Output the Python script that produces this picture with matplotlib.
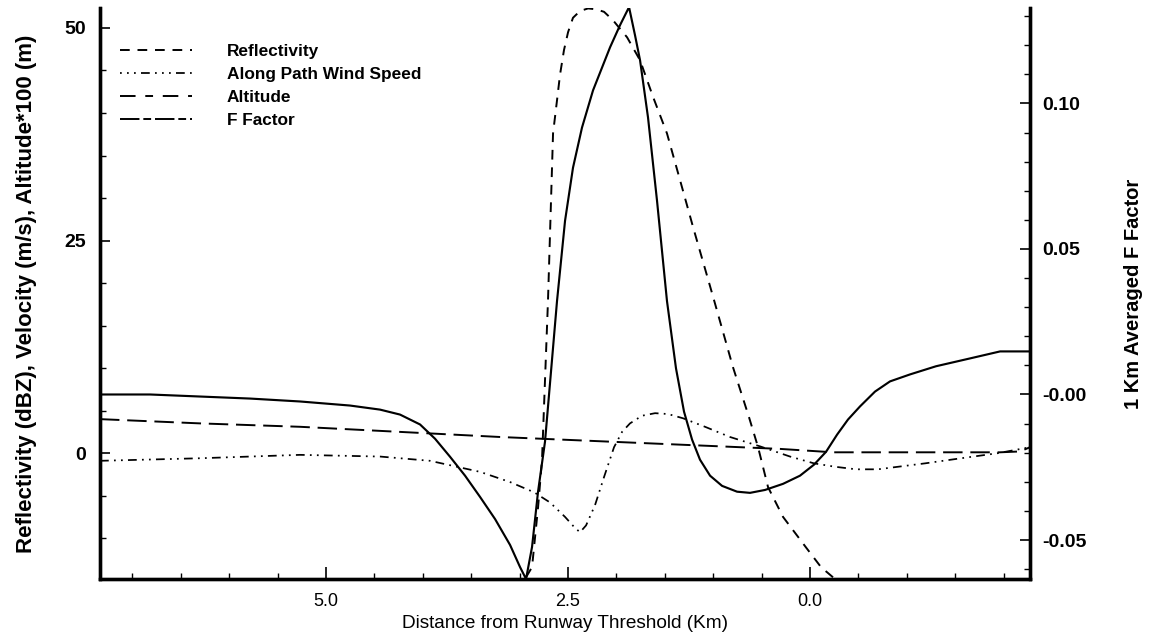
import matplotlib
matplotlib.use("Agg")
import matplotlib.pyplot as plt
from matplotlib.lines import Line2D
from matplotlib.ticker import MultipleLocator, FixedLocator, FixedFormatter

plt.rcParams["font.family"] = ["Liberation Sans", "DejaVu Sans"]

# Distance from runway threshold (km) and measured profiles
refl_km = [2.934, 2.872, 2.810, 2.769, 2.738, 2.707, 2.686, 2.655, 2.614, 2.583,
           2.542, 2.500, 2.449, 2.376, 2.293, 2.211, 2.128, 2.035, 1.890, 1.756,
           1.622, 1.478, 1.343, 1.209, 1.002, 0.796, 0.630, 0.537, 0.434, 0.279,
           0.041, -0.113, -0.237]
refl_dbz = [-14.6, -13.4, -6.4, -0.8, 8.6, 18.0, 25.9, 37.6, 41.5, 44.5,
            47.4, 49.5, 51.2, 52.0, 52.3, 52.2, 51.9, 50.9, 48.9, 46.2,
            41.9, 37.6, 32.1, 26.6, 18.4, 10.1, 4.2, 0.7, -4.0, -7.5,
            -11.1, -13.4, -14.6]

wind_km = [7.335, 6.302, 5.269, 4.442, 3.926, 3.409, 3.099, 2.851, 2.686, 2.531,
           2.428, 2.376, 2.314, 2.221, 2.128, 2.025, 1.942, 1.860, 1.736, 1.601,
           1.467, 1.312, 1.085, 0.827, 0.517, 0.207, -0.041, -0.258, -0.475,
           -0.702, -0.909, -1.188, -1.498, -1.942, -2.272]
wind_ms = [-0.9, -0.6, -0.2, -0.4, -0.9, -2.2, -3.4, -4.6, -5.8, -7.5,
           -8.8, -9.3, -8.5, -6.1, -2.8, 0.7, 2.5, 3.5, 4.4, 4.7,
           4.6, 4.1, 3.1, 1.9, 0.8, -0.4, -1.2, -1.6, -1.9,
           -1.9, -1.6, -1.2, -0.7, 0.0, 0.7]

alt_km = [7.335, 6.302, 5.269, 4.236, 3.203, 2.170, 1.137, 0.310, -0.237, -0.950,
          -1.963, -2.170, -2.272]
alt_scaled = [4.0, 3.5, 3.1, 2.5, 1.9, 1.4, 0.9, 0.5, 0.1, 0.1, 0.1, 0.2, 0.7]

ff_km = [7.335, 6.818, 6.302, 5.785, 5.269, 4.752, 4.442, 4.236, 4.029, 3.874,
         3.719, 3.564, 3.409, 3.254, 3.099, 2.996, 2.934, 2.872, 2.810, 2.738,
         2.676, 2.614, 2.531, 2.449, 2.356, 2.242, 2.066, 1.963, 1.870, 1.808,
         1.756, 1.674, 1.581, 1.478, 1.385, 1.302, 1.219, 1.137, 1.033, 0.909,
         0.754, 0.620, 0.465, 0.279, 0.104, -0.041, -0.165, -0.279, -0.392,
         -0.516, -0.671, -0.826, -1.033, -1.301, -1.653, -1.963, -2.272]
ff_val = [0.0000, 0.0000, -0.0007, -0.0014, -0.0024, -0.0038, -0.0052, -0.0069,
          -0.0103, -0.0152, -0.0214, -0.0279, -0.0352, -0.0428, -0.0517, -0.0593,
          -0.0634, -0.0524, -0.0334, -0.0162, 0.0079, 0.0321, 0.0597, 0.0779,
          0.0917, 0.1045, 0.1193, 0.1269, 0.1331, 0.1234, 0.1148, 0.0952, 0.0666,
          0.0321, 0.0090, -0.0059, -0.0155, -0.0224, -0.0279, -0.0314, -0.0334,
          -0.0338, -0.0328, -0.0307, -0.0279, -0.0241, -0.0197, -0.0138, -0.0086,
          -0.0041, 0.0010, 0.0045, 0.0069, 0.0097, 0.0124, 0.0148, 0.0148]

x_ticks = [5.0, 2.5, 0.0]
x_tick_labels = ["5.0", "2.5", "0.0"]
left_ticks = [0, 25, 50]
right_ticks = [-0.05, 0.0, 0.05, 0.10]
right_tick_labels = ["-0.05", "-0.00", "0.05", "0.10"]

fig = plt.figure(figsize=(11.56, 6.41), dpi=100)
ax = fig.add_axes([100 / 1156, 1 - 579 / 641, 930 / 1156, 571 / 641])
ax2 = ax.twinx()

ls_refl = (0, (5, 4))
ls_wind = (0, (5, 3, 1, 3, 1, 3))
ls_alt = (0, (10, 4))
ls_ff = "-"
lw = 1.4

ax.plot(refl_km, refl_dbz, color="black", lw=lw, linestyle=ls_refl)
ax.plot(wind_km, wind_ms, color="black", lw=lw * 0.9, linestyle=ls_wind)
ax.plot(alt_km, alt_scaled, color="black", lw=lw, linestyle=ls_alt)
ax2.plot(ff_km, ff_val, color="black", lw=lw * 1.1, linestyle=ls_ff)

ax.set_xlim(7.335, -2.272)
ax.set_ylim(-14.8, 52.35)
ax2.set_ylim(-0.0634, 0.1328)

for a in (ax, ax2):
    a.spines["top"].set_visible(False)
    for s in ("left", "right", "bottom"):
        a.spines[s].set_linewidth(2.4)

ax.xaxis.set_major_locator(FixedLocator(x_ticks))
ax.xaxis.set_major_formatter(FixedFormatter(x_tick_labels))
ax.xaxis.set_minor_locator(MultipleLocator(0.5))
ax.yaxis.set_major_locator(FixedLocator(left_ticks))
ax.yaxis.set_minor_locator(MultipleLocator(5))
ax2.yaxis.set_major_locator(FixedLocator(right_ticks))
ax2.yaxis.set_major_formatter(FixedFormatter(right_tick_labels))
ax2.yaxis.set_minor_locator(MultipleLocator(0.01))

ax.tick_params(axis="both", which="major", direction="in", length=7, width=1.2,
               pad=10)
ax.tick_params(axis="y", which="major", labelsize=14)
ax.tick_params(axis="x", which="major", length=9, labelsize=13)
ax.tick_params(axis="both", which="minor", direction="in", length=4, width=1.0)
ax2.tick_params(axis="y", which="major", direction="in", length=7, width=1.2,
                labelsize=14, pad=9)
ax2.tick_params(axis="y", which="minor", direction="in", length=4, width=1.0)
for lab in ax.get_yticklabels() + ax2.get_yticklabels():
    lab.set_fontweight("bold")

ax.set_xlabel("Distance from Runway Threshold (Km)", fontsize=13.7, labelpad=4)
ax.set_ylabel("Reflectivity (dBZ), Velocity (m/s), Altitude*100 (m)",
              fontsize=16, fontweight="bold", labelpad=20)
ax2.set_ylabel("1 Km Averaged F Factor", fontsize=14.5, fontweight="bold",
               labelpad=27)

handles = [
    Line2D([], [], color="black", lw=lw, linestyle=ls_refl),
    Line2D([], [], color="black", lw=lw * 0.9, linestyle=(0, (1, 3, 1, 3, 1, 3, 5, 3))),
    Line2D([], [], color="black", lw=lw, linestyle=(0, (8, 5, 4, 5))),
    Line2D([], [], color="black", lw=lw, linestyle=(0, (10, 2, 4, 2))),
]
labels = ["Reflectivity", "Along Path Wind Speed", "Altitude", "F Factor"]
leg = ax.legend(handles, labels, loc="upper left", bbox_to_anchor=(0.0215, 0.937),
                frameon=False, borderpad=0, borderaxespad=0, handlelength=4.2,
                handletextpad=2.0, labelspacing=0.47,
                prop={"size": 12.4, "weight": "bold"})

fig.savefig("out.png", dpi=100)
